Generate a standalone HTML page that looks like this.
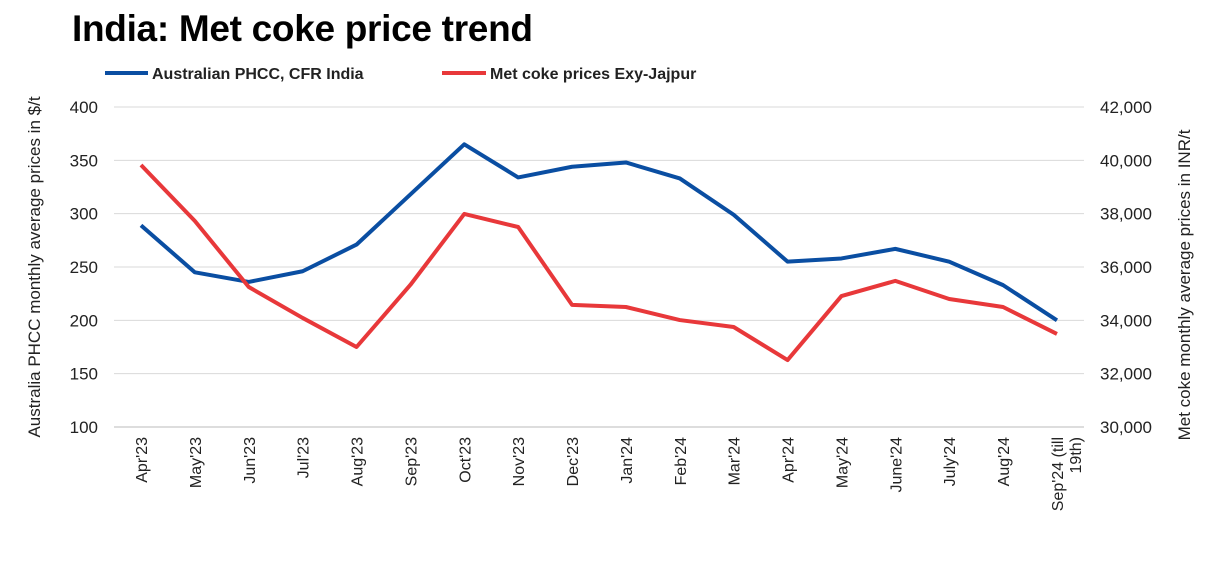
<!DOCTYPE html>
<html><head><meta charset="utf-8">
<style>
body{margin:0;background:#fff;width:1215px;height:563px;overflow:hidden;font-family:"Liberation Sans",sans-serif;}
</style></head>
<body>
<svg id="chart" width="1215" height="563" xmlns="http://www.w3.org/2000/svg">
<text x="72" y="41" font-size="37" font-weight="bold" fill="#000" letter-spacing="-0.3">India: Met coke price trend</text>
<g>
<line x1="105" y1="73" x2="148" y2="73" stroke="#0a4ea2" stroke-width="4"/>
<text x="152" y="79" font-size="16" font-weight="bold" fill="#222">Australian PHCC, CFR India</text>
<line x1="442" y1="73" x2="486" y2="73" stroke="#e8383a" stroke-width="4"/>
<text x="490" y="79" font-size="16" font-weight="bold" fill="#222">Met coke prices Exy-Jajpur</text>
</g>
<text transform="translate(40,267) rotate(-90)" text-anchor="middle" font-size="17" fill="#222">Australia PHCC monthly average prices in $/t</text>
<text transform="translate(1190,285) rotate(-90)" text-anchor="middle" font-size="17" fill="#222">Met coke monthly average prices in INR/t</text>
<g id="grid"></g><g id="lt"></g><g id="rt"></g><g id="xt"></g><g id="series"></g>
</svg>
<script>
const categories=["Apr'23","May'23","Jun'23","Jul'23","Aug'23","Sep'23","Oct'23","Nov'23","Dec'23","Jan'24","Feb'24","Mar'24","Apr'24","May'24","June'24","July'24","Aug'24","Sep'24 (till|19th)"];
const phccValues=[289,245,236,246,271,318,365,334,344,348,333,299,255,258,267,255,233,200];
const cokeValues=[39825,37725,35250,34090,33000,35330,37990,37500,34580,34500,34010,33750,32510,34910,35480,34800,34500,33490];
const leftTicks=[100,150,200,250,300,350,400];
const rightTicks=[30000,32000,34000,36000,38000,40000,42000];
const NS="http://www.w3.org/2000/svg";
const plotTop=107,plotBot=427,x0=141,dx=53.88,L=114,R=1084;
const yL=v=>plotBot-(v-100)/300*(plotBot-plotTop);
const yR=v=>plotBot-(v-30000)/12000*(plotBot-plotTop);
const xS=i=>x0+i*dx;
function mk(t,a,p){const e=document.createElementNS(NS,t);for(const k in a)e.setAttribute(k,a[k]);document.getElementById(p).appendChild(e);return e;}
leftTicks.forEach(v=>{
 const g=mk('line',{x1:L,x2:R,y1:yL(v),y2:yL(v),stroke:v===100?'#bbb':'#d9d9d9','stroke-width':1},'grid');
 
 
 const t=mk('text',{x:98,y:yL(v)+6,'text-anchor':'end','font-size':17,fill:'#222'},'lt');t.textContent=v;
 
 
});
rightTicks.forEach(v=>{
 const t=mk('text',{x:1100,y:yR(v)+6,'font-size':17,fill:'#222'},'rt');t.textContent=v.toLocaleString('en-US');
 
 
});
categories.forEach((c,i)=>{
 const parts=c.split('|');
 parts.forEach((p,j)=>{
  const t=mk('text',{transform:`translate(${xS(i)+6+j*18},${plotBot+10}) rotate(-90)`,'text-anchor':'end','font-size':16,fill:'#222'},'xt');t.textContent=p;
  
  
 });
});
const pb=mk('polyline',{points:phccValues.map((v,i)=>xS(i)+','+yL(v)).join(' '),fill:'none',stroke:'#0a4ea2','stroke-width':4,'stroke-linejoin':'round'},'series');


const pr=mk('polyline',{points:cokeValues.map((v,i)=>xS(i)+','+yR(v)).join(' '),fill:'none',stroke:'#e8383a','stroke-width':4,'stroke-linejoin':'round'},'series');


</script>
</body></html>
